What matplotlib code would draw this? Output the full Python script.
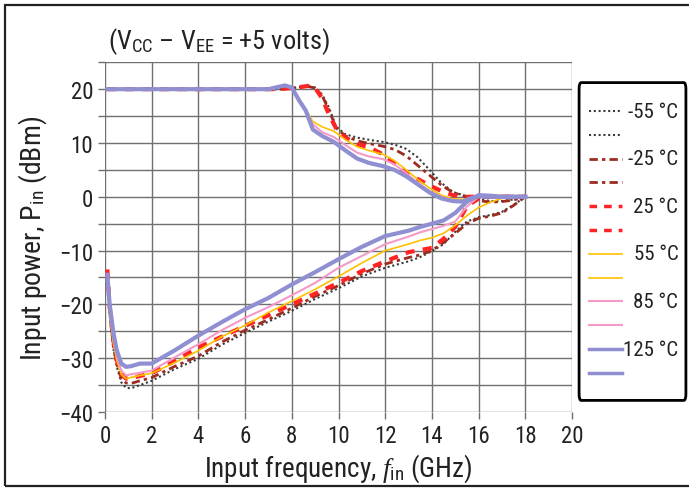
import matplotlib
matplotlib.use("Agg")
import matplotlib.pyplot as plt
from matplotlib import font_manager
from matplotlib.patches import Rectangle, FancyBboxPatch
from matplotlib.ticker import MultipleLocator

# pick the narrowest sans that is installed
installed = {f.name for f in font_manager.fontManager.ttflist}
base = 'DejaVu Sans'
for name in ['Liberation Sans Narrow', 'Roboto Condensed', 'Roboto']:
    if name in installed:
        base = name
        break
plt.rcParams['font.family'] = [base, 'DejaVu Sans']
plt.rcParams['mathtext.fontset'] = 'custom'
plt.rcParams['mathtext.rm'] = base
plt.rcParams['mathtext.it'] = 'Liberation Serif:italic'

temps = ["-55 °C", "-25 °C", "25 °C", "55 °C", "85 °C", "125 °C"]

# upper (overdrive) curves, GHz / dBm
f_up_cold = [0.1, 2, 4, 6, 7.5, 8.2, 8.7, 9.0, 9.3, 9.6, 9.9, 10.3, 10.8, 11.3, 11.9,
             12.4, 12.9, 13.4, 13.9, 14.4, 14.9, 15.4, 16.0, 16.5, 17.0, 17.5, 18.0]
up_m55 = [20, 20, 20, 20, 20, 20.3, 20.5, 20.3, 19.0, 16.5, 13.0, 11.6, 11.0, 10.6, 10.2,
          9.7, 8.9, 7.3, 5.0, 2.6, 0.9, 0.2, -0.4, -0.8, -0.8, -0.5, 0]
up_m25 = [20, 20, 20, 20, 20, 20.3, 20.5, 20.2, 18.8, 16.0, 12.8, 11.3, 10.4, 9.9, 9.4,
          8.8, 7.6, 5.8, 4.0, 2.2, 0.8, 0.1, -0.7, -1.0, -0.9, -0.6, 0]
up_25 = [20, 20, 20, 20, 20, 20.3, 20.6, 20.2, 18.3, 15.2, 12.7, 11.0, 9.8, 9.2, 7.9,
         6.2, 4.4, 3.3, 2.1, 1.1, 0.3, 0.0, 0, 0, 0, 0, 0]

f_up_warm = [0.1, 2, 4, 6, 7.0, 7.4, 7.7, 8.0, 8.3, 8.6, 8.9, 9.3, 9.8, 10.3, 10.8, 11.3,
             11.9, 12.4, 12.9, 13.4, 13.9, 14.4, 14.9, 15.3, 15.7, 16.0, 16.5, 17.0, 17.5, 18.0]
up_55 = [20, 20, 20, 20, 20, 20.3, 20.6, 20.2, 18.4, 16.2, 14.0, 13.0, 12.2, 10.6, 9.3, 8.6,
         7.9, 6.7, 5.0, 3.2, 1.6, 0.3, -0.4, -0.5, -0.2, 0, 0, 0, 0, 0]
up_85 = [20, 20, 20, 20, 20, 20.3, 20.6, 20.2, 18.2, 16.0, 13.5, 12.0, 11.1, 9.6, 8.2, 7.5,
         7.0, 6.0, 4.4, 2.5, 1.0, 0.0, -0.8, -0.8, -0.2, 0, 0, 0, 0, 0]
up_125 = [20, 20, 20, 20, 20, 20.4, 20.7, 20.3, 18.0, 16.0, 12.5, 11.3, 10.2, 8.6, 7.1, 6.3,
          5.7, 5.0, 3.8, 2.3, 0.8, -0.3, -0.8, -0.9, -0.2, 0.1, 0, 0, 0, 0]

# lower (sensitivity) curves
f_low = [0.1, 0.2, 0.35, 0.5, 0.7, 0.9, 1.1, 1.5, 2.0, 3, 4, 5, 6, 7, 8, 9, 10, 11, 12, 13,
         13.5, 14, 14.5, 15, 15.5, 16, 16.5, 17, 17.5, 18]
low_m55 = [-15, -22, -28, -31.5, -34.5, -35.5, -35.6, -35, -34.2, -32, -30.1, -27.5, -25.3,
           -23.2, -21.2, -19, -17, -14.8, -13.2, -12, -11.2, -10.1, -8.8, -6.5, -4.6, -3.8,
           -3.4, -2.8, -1.5, 0]
low_m25 = [-14, -21, -27.5, -31, -33.8, -34.6, -34.7, -34.2, -33.6, -31.5, -29.6, -27, -24.8,
           -22.8, -20.7, -18.5, -16.5, -14.3, -12.5, -11.3, -10.8, -10, -8.5, -6.8, -5.0, -4.0,
           -3.6, -3.0, -1.6, 0]
low_25 = [-13.5, -20.5, -26.5, -30.3, -33, -33.8, -33.8, -33.3, -32.8, -30.5, -28, -26, -24,
          -22, -20, -18, -16, -13.8, -12, -10.3, -9.9, -9.5, -7.8, -5.6, -1.8, -0.3, 0, 0, 0, 0]
low_55 = [-15.5, -22, -27, -30.3, -33, -33.8, -33.6, -33.2, -32.8, -30.8, -28.6, -26, -23.9,
          -21.5, -19.4, -17.2, -14.8, -12.3, -10, -8.8, -8.1, -7.6, -6.8, -5.3, -3.5, -2.0,
          -1.0, -0.3, 0, 0]
low_85 = [-15, -21, -26, -29.5, -32.3, -33.2, -33, -32.7, -32.3, -29.8, -27.4, -24.8, -22.5,
          -20.5, -18.3, -16, -13.2, -11, -8.8, -7.4, -6.6, -6, -5.4, -4.6, -1.8, 0, 0.2, 0, 0, 0]
low_125 = [-14.5, -20, -25, -28.5, -31, -31.6, -31.5, -31, -31, -28.5, -25.8, -23.3, -20.9,
           -18.8, -16.3, -14, -11.6, -9.3, -7.3, -6.3, -5.6, -5, -4.4, -3.0, -0.9, 0.3, 0.2,
           0, 0, 0]

styles = [
    dict(color='#3a3a3a', lw=1.5, ls=(0, (1, 1.3))),
    dict(color='#9b2d20', lw=2.0, ls=(0, (3, 1.5, 1.2, 1.5))),
    dict(color='#ff2424', lw=3.0, ls=(0, (2.2, 2.0))),
    dict(color='#ffc000', lw=1.2, ls='-'),
    dict(color='#f49ac8', lw=1.5, ls='-'),
    dict(color='#8f8fd2', lw=3.0, ls='-'),
]
curves = [
    (f_up_cold, up_m55, low_m55),
    (f_up_cold, up_m25, low_m25),
    (f_up_cold, up_25, low_25),
    (f_up_warm, up_55, low_55),
    (f_up_warm, up_85, low_85),
    (f_up_warm, up_125, low_125),
]

fig = plt.figure(figsize=(6.89, 4.89), dpi=100)
ax = fig.add_axes([105 / 689, 1 - 413 / 489, 467 / 689, 350 / 489])

for i in [5, 4, 3, 2, 1, 0]:
    fu, up, low = curves[i]
    st = styles[i]
    ax.plot(fu, up, color=st['color'], lw=st['lw'], ls=st['ls'], zorder=3 + i * 0.1)
    ax.plot(f_low, low, color=st['color'], lw=st['lw'], ls=st['ls'], zorder=3 + i * 0.1)

ax.set_xlim(0, 20)
ax.xaxis.set_major_locator(MultipleLocator(2))
ax.yaxis.set_major_locator(MultipleLocator(10))
ax.yaxis.set_minor_locator(MultipleLocator(5))
ax.grid(True, which='both', color='#707070', lw=1.0)
for s in ax.spines.values():
    s.set_visible(False)
ax.tick_params(which='both', direction='out', length=5, width=1, color='#707070',
               labelsize=16.5, labelcolor='#222222')
ax.set_ylim(-40, 25.05)
ax.set_xlabel(r"Input frequency, $\mathit{f}_{\mathrm{in}}$ (GHz)", fontsize=19.5,
              color='#222222', labelpad=3)
ax.set_ylabel(r"Input power, P$_{\mathrm{in}}$ (dBm)", fontsize=20, color='#222222',
              labelpad=7)
fig.text(108 / 689, 1 - 42 / 489, r"(V$_{\mathrm{CC}}$ – V$_{\mathrm{EE}}$ = +5 volts)",
         fontsize=19, color='#222222', va='center', ha='left')

# legend panel: two samples per temperature (upper and lower curve)
lax = fig.add_axes([578 / 689, 1 - 403 / 489, 109 / 689, 321 / 489])
lax.set_xlim(0, 1)
lax.set_ylim(0, 1)
lax.axis('off')
lax.add_patch(FancyBboxPatch((0.01, 0.005), 0.98, 0.99, boxstyle="round,pad=0,rounding_size=0.02",
                             transform=lax.transAxes, fill=False, ec='black', lw=2,
                             clip_on=False))
y0 = 1 - 30 / 321
step = 23.8 / 321
for i, (label, st) in enumerate(zip(temps, styles)):
    for k in range(2):
        y = y0 - (2 * i + k) * step
        lax.plot([0.10, 0.405], [y, y], color=st['color'], lw=min(st['lw'], 2.5), ls=st['ls'])
    lax.text(0.92, y0 - 2 * i * step, label, fontsize=15, ha='right', va='center',
             color='#222222')

fig.patches.append(Rectangle((5 / 689, 2 / 489), 1.2, 1 - 8 / 489, transform=fig.transFigure,
                             fill=False, ec='#222222', lw=1.6))

fig.savefig("out.png", dpi=100)
